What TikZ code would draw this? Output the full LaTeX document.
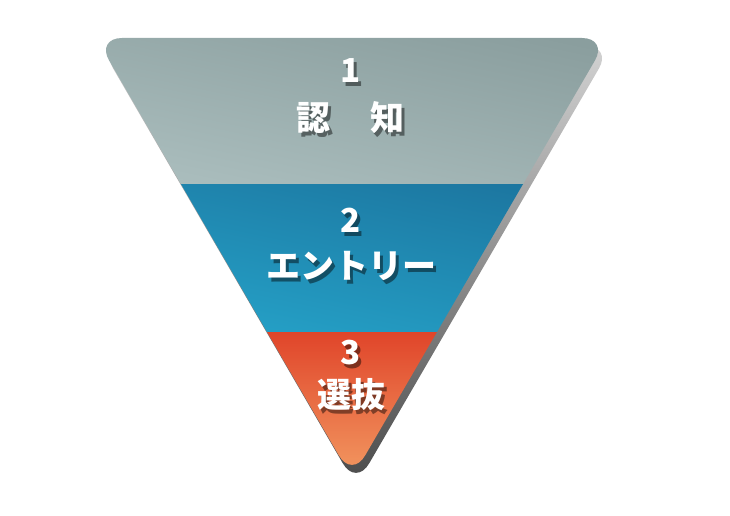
\documentclass[tikz,border=0pt]{standalone}
\usepackage{fontspec}
\newfontfamily\jp{Noto Sans CJK JP}
\definecolor{grayA}{HTML}{8A9E9E}
\definecolor{grayB}{HTML}{AABDBD}
\definecolor{blueA}{HTML}{1C76A0}
\definecolor{blueB}{HTML}{25A2C8}
\definecolor{orA}{HTML}{E0452A}
\definecolor{orB}{HTML}{F4A066}
\definecolor{shA}{HTML}{D2D2D2}
\definecolor{shB}{HTML}{4A4A4A}
\tikzset{
  lbl/.style={inner sep=0pt, text=white, font=\jp\bfseries\fontsize{34}{34}\selectfont},
  num/.style={inner sep=0pt, text=white, font=\jp\bfseries\fontsize{33}{33}\selectfont},
  lblsh/.style={lbl, text=black, text opacity=0.45},
  numsh/.style={num, text=black, text opacity=0.45},
}
\newcommand\shlabel[5]{% style, name, x, y, text
  \node[#1sh] (#2s) at (#3+3,#4+4) {#5};
  \node[#1] (#2) at (#3,#4) {#5};
}
\begin{document}
\begin{tikzpicture}[x=1pt,y=-1pt]
\useasboundingbox (0,0) rectangle (730,516);
% shadow
\shade[top color=shA, bottom color=shB, rounded corners=26pt]
  (356,46) -- (612,46) -- (356,486) -- (100,46) -- cycle;
% bands
\begin{scope}
  \clip[rounded corners=26pt] (352,38) -- (608,38) -- (352,478) -- (96,38) -- cycle;
  \shade[shading=axis, top color=grayA, bottom color=grayB, shading angle=-12]
    (90,30) rectangle (620,184.5);
  \shade[shading=axis, top color=blueA, bottom color=blueB, shading angle=-12]
    (90,184) rectangle (620,332.5);
  \shade[top color=orA, bottom color=orB]
    (90,332) rectangle (620,490);
\end{scope}
% labels
\shlabel{num}{n1}{351}{71}{1}
\shlabel{lbl}{t1}{350.5}{118}{認\hspace{40pt}知}
\shlabel{num}{n2}{351}{220}{2}
\shlabel{lbl}{t2}{351}{265.5}{エントリー}
\shlabel{num}{n3}{351}{352.5}{3}
\shlabel{lbl}{t3}{351.5}{395}{選抜}
\end{tikzpicture}
\end{document}
